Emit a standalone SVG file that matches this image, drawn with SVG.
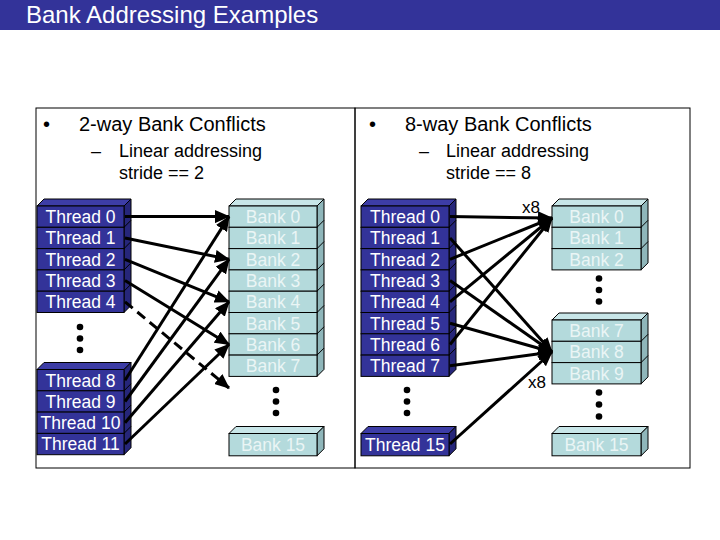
<svg xmlns="http://www.w3.org/2000/svg" width="720" height="540" viewBox="0 0 720 540">
<defs>
<style>
text{font-family:"Liberation Sans",Arial,sans-serif}
.title{fill:#ffffff;font-size:24px}
.h1{fill:#000;font-size:20px}
.h2{fill:#000;font-size:18px}
.tf{fill:#333399;stroke:#000;stroke-width:1}
.tt{fill:#3d3da6;stroke:#000;stroke-width:1}
.ts{fill:#26267a;stroke:#000;stroke-width:1}
.bf{fill:#b4dadc;stroke:#000;stroke-width:1}
.bt{fill:#c8e6e8;stroke:#000;stroke-width:1}
.bs{fill:#8fb6ba;stroke:#000;stroke-width:1}
.tl{fill:#ffffff;font-size:17.5px;text-anchor:middle}
.bl{fill:#eaf5f5;font-size:17.5px;text-anchor:middle}
.ln{stroke:#000;stroke-width:3;fill:none;marker-end:url(#ah)}
.dash{stroke-dasharray:10 6}
.dot{fill:#000}
.frame{fill:none;stroke:#000;stroke-width:1}
.x8{fill:#000;font-size:17px}
</style>
<marker id="ah" markerUnits="userSpaceOnUse" markerWidth="15" markerHeight="13" viewBox="0 0 15 13" refX="14" refY="6.5" orient="auto">
<path d="M0,0 L15,6.5 L0,13 Z" fill="#000"/>
</marker>
</defs>
<rect x="0" y="0" width="720" height="30" fill="#333399"/>
<text class="title" x="26" y="23">Bank Addressing Examples</text>
<rect class="frame" x="36" y="108" width="319" height="360"/>
<rect class="frame" x="355" y="108" width="335" height="360"/>
<g id="text-left">
<text class="h1" x="43" y="131">•</text>
<text class="h1" x="79" y="131">2-way Bank Conflicts</text>
<text class="h2" x="91" y="157">–</text>
<text class="h2" x="119" y="157">Linear addressing</text>
<text class="h2" x="119" y="179">stride == 2</text>
</g>
<g id="text-right">
<text class="h1" x="369" y="131">•</text>
<text class="h1" x="405" y="131">8-way Bank Conflicts</text>
<text class="h2" x="419" y="157">–</text>
<text class="h2" x="446" y="157">Linear addressing</text>
<text class="h2" x="446" y="179">stride == 8</text>
</g>
<g id="threads-left-a">
<polygon class="tt" points="37,206 44,199 131,199 124,206"/>
<polygon class="ts" points="124,206 131,199 131,305.5 124,312.5"/>
<path d="M124,227.3 L131,220.3 M124,248.6 L131,241.6 M124,269.9 L131,262.9 M124,291.2 L131,284.2" stroke="#000" stroke-width="1"/>
<rect class="tf" x="37" y="206" width="87" height="21.3"/>
<rect class="tf" x="37" y="227.3" width="87" height="21.3"/>
<rect class="tf" x="37" y="248.6" width="87" height="21.3"/>
<rect class="tf" x="37" y="269.9" width="87" height="21.3"/>
<rect class="tf" x="37" y="291.2" width="87" height="21.3"/>
<text class="tl" x="80.5" y="223">Thread 0</text>
<text class="tl" x="80.5" y="244.3">Thread 1</text>
<text class="tl" x="80.5" y="265.6">Thread 2</text>
<text class="tl" x="80.5" y="286.9">Thread 3</text>
<text class="tl" x="80.5" y="308.2">Thread 4</text>
</g>
<g id="threads-left-b">
<polygon class="tt" points="37,369.5 44,362.5 131,362.5 124,369.5"/>
<polygon class="ts" points="124,369.5 131,362.5 131,447.7 124,454.7"/>
<path d="M124,390.8 L131,383.8 M124,412.1 L131,405.1 M124,433.4 L131,426.4" stroke="#000" stroke-width="1"/>
<rect class="tf" x="37" y="369.5" width="87" height="21.3"/>
<rect class="tf" x="37" y="390.8" width="87" height="21.3"/>
<rect class="tf" x="37" y="412.1" width="87" height="21.3"/>
<rect class="tf" x="37" y="433.4" width="87" height="21.3"/>
<text class="tl" x="80.5" y="386.5">Thread 8</text>
<text class="tl" x="80.5" y="407.8">Thread 9</text>
<text class="tl" x="80.5" y="429.1">Thread 10</text>
<text class="tl" x="80.5" y="450.4">Thread 11</text>
</g>
<g id="banks-left">
<polygon class="bt" points="229,206 236,199 324,199 317,206"/>
<polygon class="bs" points="317,206 324,199 324,369.4 317,376.4"/>
<path d="M317,227.3 L324,220.3 M317,248.6 L324,241.6 M317,269.9 L324,262.9 M317,291.2 L324,284.2 M317,312.5 L324,305.5 M317,333.8 L324,326.8 M317,355.1 L324,348.1" stroke="#000" stroke-width="1"/>
<rect class="bf" x="229" y="206" width="88" height="21.3"/>
<rect class="bf" x="229" y="227.3" width="88" height="21.3"/>
<rect class="bf" x="229" y="248.6" width="88" height="21.3"/>
<rect class="bf" x="229" y="269.9" width="88" height="21.3"/>
<rect class="bf" x="229" y="291.2" width="88" height="21.3"/>
<rect class="bf" x="229" y="312.5" width="88" height="21.3"/>
<rect class="bf" x="229" y="333.8" width="88" height="21.3"/>
<rect class="bf" x="229" y="355.1" width="88" height="21.3"/>
<text class="bl" x="273" y="223">Bank 0</text>
<text class="bl" x="273" y="244.3">Bank 1</text>
<text class="bl" x="273" y="265.6">Bank 2</text>
<text class="bl" x="273" y="286.9">Bank 3</text>
<text class="bl" x="273" y="308.2">Bank 4</text>
<text class="bl" x="273" y="329.5">Bank 5</text>
<text class="bl" x="273" y="350.8">Bank 6</text>
<text class="bl" x="273" y="372.1">Bank 7</text>
</g>
<g id="bank15-left">
<polygon class="bt" points="229,433.5 236,426.5 324,426.5 317,433.5"/>
<polygon class="bs" points="317,433.5 324,426.5 324,448.8 317,455.8"/>
<rect class="bf" x="229" y="433.5" width="88" height="22.3"/>
<text class="bl" x="273" y="451">Bank 15</text>
</g>
<g id="threads-right">
<polygon class="tt" points="361,206 368,199 456,199 449,206"/>
<polygon class="ts" points="449,206 456,199 456,369.4 449,376.4"/>
<path d="M449,227.3 L456,220.3 M449,248.6 L456,241.6 M449,269.9 L456,262.9 M449,291.2 L456,284.2 M449,312.5 L456,305.5 M449,333.8 L456,326.8 M449,355.1 L456,348.1" stroke="#000" stroke-width="1"/>
<rect class="tf" x="361" y="206" width="88" height="21.3"/>
<rect class="tf" x="361" y="227.3" width="88" height="21.3"/>
<rect class="tf" x="361" y="248.6" width="88" height="21.3"/>
<rect class="tf" x="361" y="269.9" width="88" height="21.3"/>
<rect class="tf" x="361" y="291.2" width="88" height="21.3"/>
<rect class="tf" x="361" y="312.5" width="88" height="21.3"/>
<rect class="tf" x="361" y="333.8" width="88" height="21.3"/>
<rect class="tf" x="361" y="355.1" width="88" height="21.3"/>
<text class="tl" x="405" y="223">Thread 0</text>
<text class="tl" x="405" y="244.3">Thread 1</text>
<text class="tl" x="405" y="265.6">Thread 2</text>
<text class="tl" x="405" y="286.9">Thread 3</text>
<text class="tl" x="405" y="308.2">Thread 4</text>
<text class="tl" x="405" y="329.5">Thread 5</text>
<text class="tl" x="405" y="350.8">Thread 6</text>
<text class="tl" x="405" y="372.1">Thread 7</text>
</g>
<g id="thread15-right">
<polygon class="tt" points="361,433.5 368,426.5 456,426.5 449,433.5"/>
<polygon class="ts" points="449,433.5 456,426.5 456,448.8 449,455.8"/>
<rect class="tf" x="361" y="433.5" width="88" height="22.3"/>
<text class="tl" x="405" y="451">Thread 15</text>
</g>
<g id="banks-right-a">
<polygon class="bt" points="552,206 559,199 648,199 641,206"/>
<polygon class="bs" points="641,206 648,199 648,262.9 641,269.9"/>
<path d="M641,227.3 L648,220.3 M641,248.6 L648,241.6" stroke="#000" stroke-width="1"/>
<rect class="bf" x="552" y="206" width="89" height="21.3"/>
<rect class="bf" x="552" y="227.3" width="89" height="21.3"/>
<rect class="bf" x="552" y="248.6" width="89" height="21.3"/>
<text class="bl" x="596.5" y="223">Bank 0</text>
<text class="bl" x="596.5" y="244.3">Bank 1</text>
<text class="bl" x="596.5" y="265.6">Bank 2</text>
</g>
<g id="banks-right-b">
<polygon class="bt" points="552,320 559,313 648,313 641,320"/>
<polygon class="bs" points="641,320 648,313 648,376.9 641,383.9"/>
<path d="M641,341.3 L648,334.3 M641,362.6 L648,355.6" stroke="#000" stroke-width="1"/>
<rect class="bf" x="552" y="320" width="89" height="21.3"/>
<rect class="bf" x="552" y="341.3" width="89" height="21.3"/>
<rect class="bf" x="552" y="362.6" width="89" height="21.3"/>
<text class="bl" x="596.5" y="337">Bank 7</text>
<text class="bl" x="596.5" y="358.3">Bank 8</text>
<text class="bl" x="596.5" y="379.6">Bank 9</text>
</g>
<g id="bank15-right">
<polygon class="bt" points="552,433.5 559,426.5 648,426.5 641,433.5"/>
<polygon class="bs" points="641,433.5 648,426.5 648,448.8 641,455.8"/>
<rect class="bf" x="552" y="433.5" width="89" height="22.3"/>
<text class="bl" x="596.5" y="451">Bank 15</text>
</g>
<g id="ellipses">
<circle class="dot" cx="80" cy="327" r="3.3"/><circle class="dot" cx="80" cy="338.5" r="3.3"/><circle class="dot" cx="80" cy="350" r="3.3"/>
<circle class="dot" cx="276" cy="390" r="3.3"/><circle class="dot" cx="276" cy="401.5" r="3.3"/><circle class="dot" cx="276" cy="413" r="3.3"/>
<circle class="dot" cx="407" cy="390" r="3.3"/><circle class="dot" cx="407" cy="401.5" r="3.3"/><circle class="dot" cx="407" cy="413" r="3.3"/>
<circle class="dot" cx="599" cy="278.5" r="3.3"/><circle class="dot" cx="599" cy="290" r="3.3"/><circle class="dot" cx="599" cy="301.5" r="3.3"/>
<circle class="dot" cx="599" cy="392.5" r="3.3"/><circle class="dot" cx="599" cy="404.5" r="3.3"/><circle class="dot" cx="599" cy="416.5" r="3.3"/>
</g>
<g id="connectors">
<line class="ln" x1="125" y1="216.6" x2="229" y2="216.6"/>
<line class="ln" x1="125" y1="238" x2="229" y2="259.3"/>
<line class="ln" x1="125" y1="259.3" x2="229" y2="301.8"/>
<line class="ln" x1="125" y1="280.5" x2="229" y2="344.5"/>
<line class="ln dash" x1="125" y1="301.8" x2="229" y2="388"/>
<line class="ln" x1="125" y1="380.2" x2="229" y2="216.6"/>
<line class="ln" x1="125" y1="401.5" x2="229" y2="259.3"/>
<line class="ln" x1="125" y1="422.8" x2="229" y2="301.8"/>
<line class="ln" x1="125" y1="444" x2="229" y2="344.5"/>
<line class="ln" x1="450" y1="216.6" x2="552" y2="218"/>
<line class="ln" x1="450" y1="259.3" x2="552" y2="218"/>
<line class="ln" x1="450" y1="301.8" x2="552" y2="218"/>
<line class="ln" x1="450" y1="344.5" x2="552" y2="218"/>
<line class="ln" x1="450" y1="238" x2="552" y2="352"/>
<line class="ln" x1="450" y1="280.5" x2="552" y2="352"/>
<line class="ln" x1="450" y1="323.2" x2="552" y2="352"/>
<line class="ln" x1="450" y1="365.8" x2="552" y2="352"/>
<line class="ln" x1="450" y1="444" x2="552" y2="352"/>
<text class="x8" x="522" y="213">x8</text>
<text class="x8" x="528" y="388">x8</text>
</g>
</svg>
